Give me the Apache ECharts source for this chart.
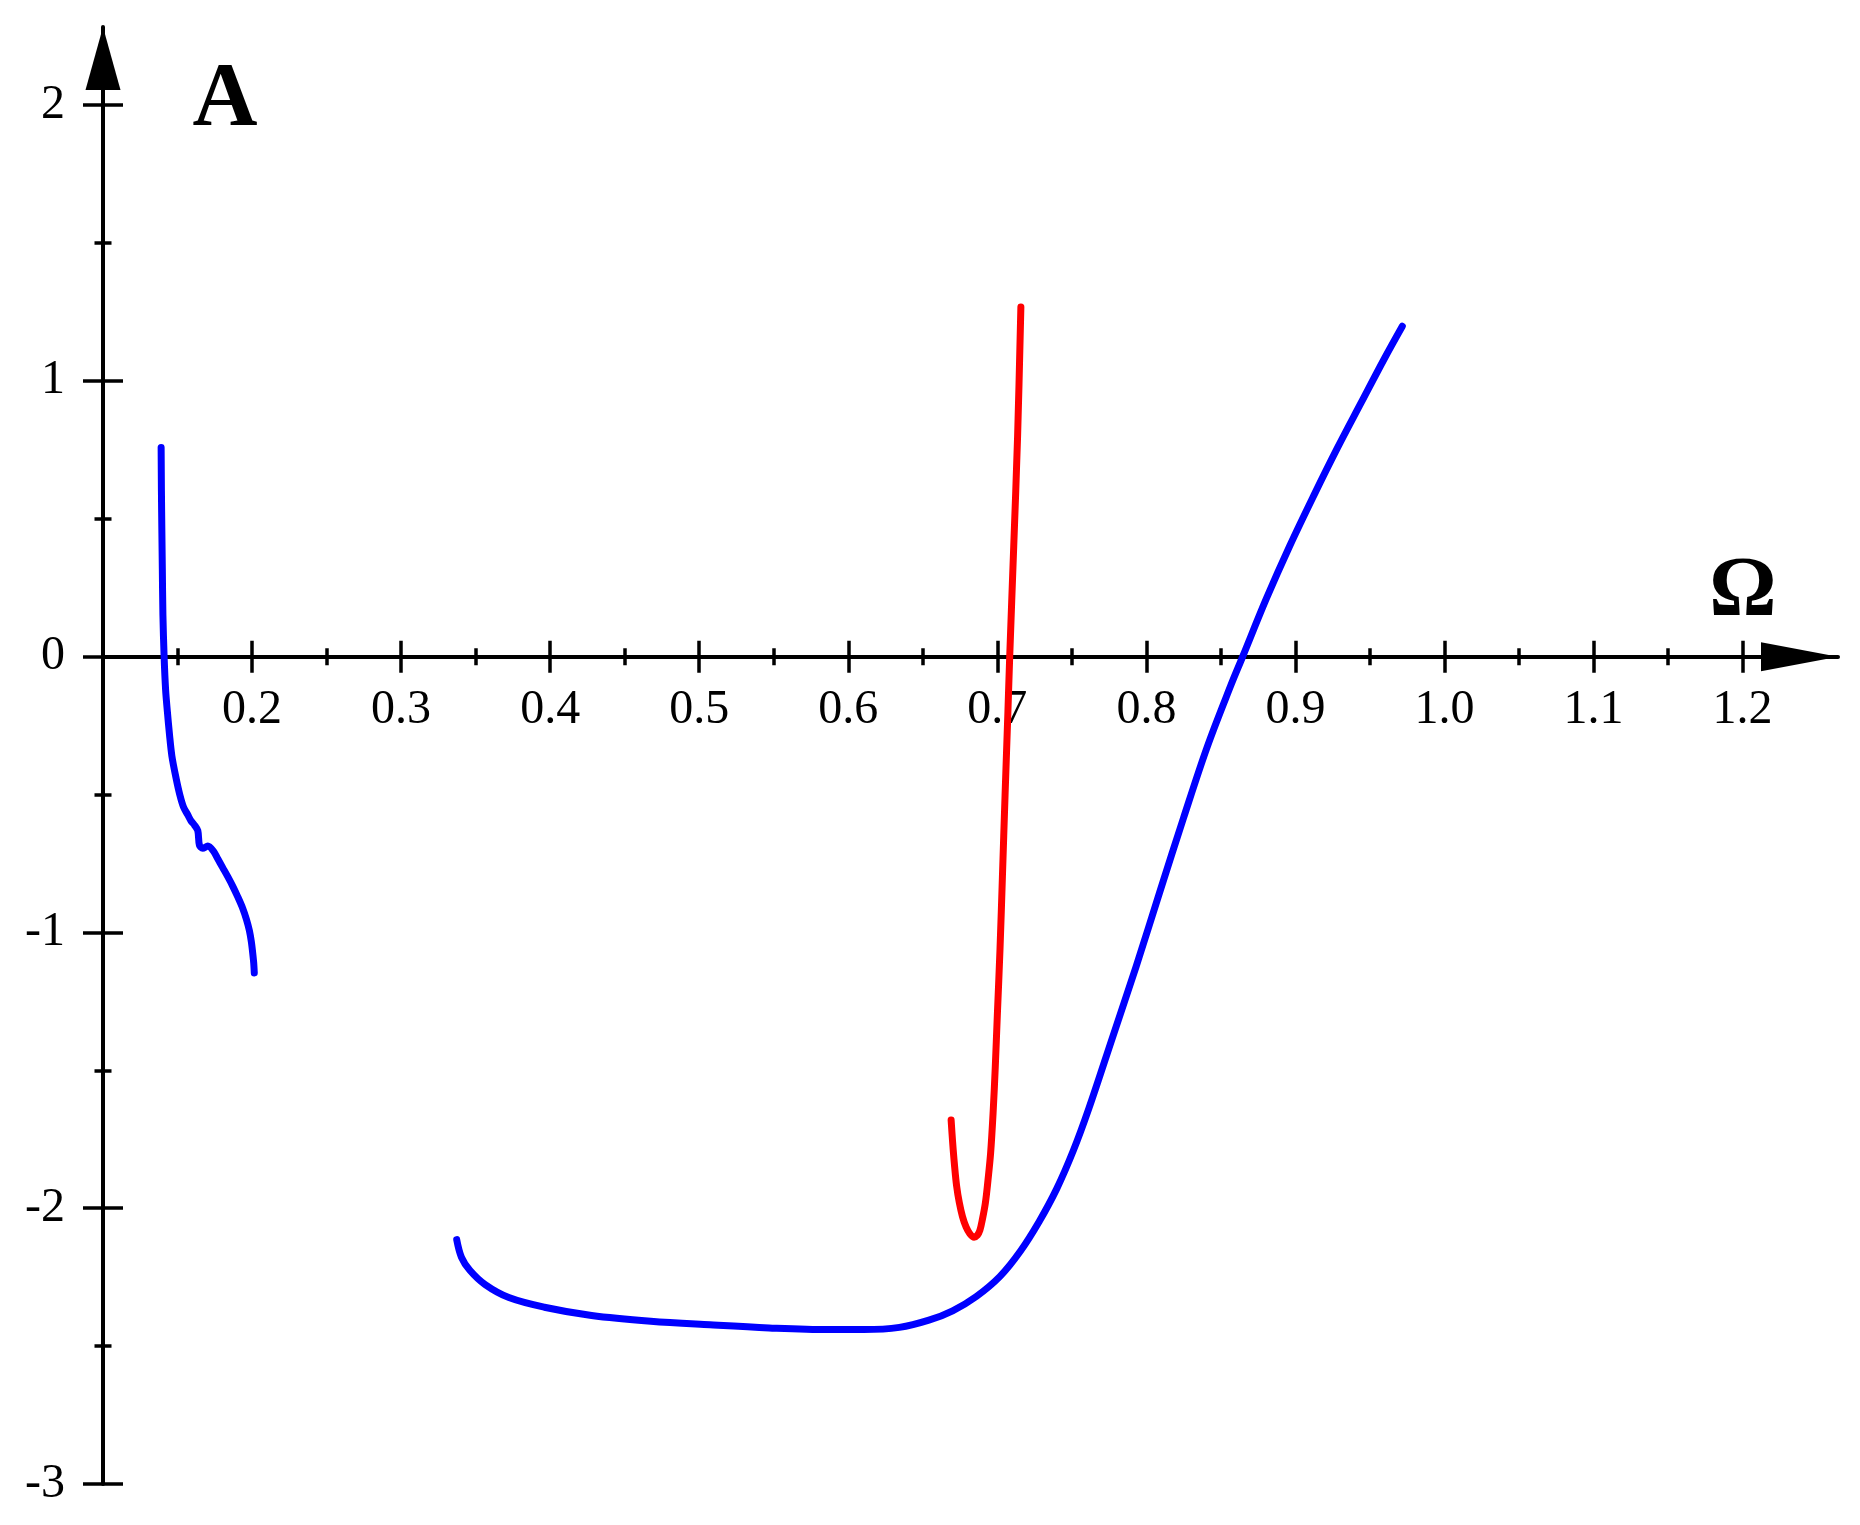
<!DOCTYPE html>
<html>
<head>
<meta charset="utf-8">
<script src="https://cdn.jsdelivr.net/npm/echarts@6/dist/echarts.min.js"></script>
<style>
html,body{margin:0;padding:0;background:#ffffff;}
#chart{width:1860px;height:1525px;}
</style>
</head>
<body>
<div id="chart"></div>
<script>
// ---- tick / label values ----
const xMajorTicks = [0.1, 0.2, 0.3, 0.4, 0.5, 0.6, 0.7, 0.8, 0.9, 1.0, 1.1, 1.2];
const xLabelValues = [0.2, 0.3, 0.4, 0.5, 0.6, 0.7, 0.8, 0.9, 1.0, 1.1, 1.2];
const xMinorTicks = [0.15, 0.25, 0.35, 0.45, 0.55, 0.65, 0.75, 0.85, 0.95, 1.05, 1.15];
const yMajorTicks = [-3, -2, -1, 0, 1, 2];
const yMinorTicks = [-2.5, -1.5, -0.5, 0.5, 1.5];
const xAxisName = 'Ω';
const yAxisName = 'A';

// ---- series values ----
const blueLeftX = [0.1390, 0.1392, 0.1395, 0.1398, 0.1402, 0.1410, 0.1420, 0.1432, 0.1446, 0.1462, 0.1490, 0.1515, 0.1540, 0.1570, 0.1590, 0.1614, 0.1636, 0.1647, 0.1669, 0.1703, 0.1741, 0.1770, 0.1803, 0.1837, 0.1870, 0.1905, 0.1937, 0.1962, 0.1982, 0.1995, 0.2004, 0.2011, 0.2015];
const blueLeftY = [0.758, 0.600, 0.450, 0.320, 0.150, 0.000, -0.120, -0.200, -0.282, -0.360, -0.440, -0.500, -0.545, -0.575, -0.595, -0.611, -0.631, -0.684, -0.695, -0.687, -0.705, -0.733, -0.765, -0.798, -0.832, -0.872, -0.912, -0.952, -0.993, -1.033, -1.073, -1.110, -1.147];

const blueMainX = [0.3373, 0.3405, 0.3461, 0.3564, 0.3723, 0.3961, 0.4278, 0.4675, 0.5072, 0.5469, 0.5866, 0.6105, 0.6343, 0.6541, 0.6700, 0.6859, 0.7018, 0.7153, 0.7280, 0.7399, 0.7510, 0.7613, 0.7772, 0.7931, 0.8090, 0.8248, 0.8407, 0.8566, 0.8646, 0.8804, 0.8963, 0.9122, 0.9280, 0.9439, 0.9598, 0.9717];
const blueMainY = [-2.114, -2.178, -2.225, -2.277, -2.324, -2.359, -2.389, -2.410, -2.423, -2.434, -2.440, -2.440, -2.432, -2.406, -2.372, -2.320, -2.247, -2.157, -2.049, -1.929, -1.791, -1.640, -1.382, -1.124, -0.853, -0.587, -0.329, -0.105, 0.000, 0.209, 0.403, 0.583, 0.755, 0.919, 1.082, 1.198];

const redX = [0.6690, 0.6700, 0.6712, 0.6727, 0.6745, 0.6766, 0.6790, 0.6815, 0.6844, 0.6866, 0.6883, 0.6900, 0.6920, 0.6937, 0.6955, 0.6972, 0.6986, 0.7000, 0.7018, 0.7034, 0.7052, 0.7071, 0.7083, 0.7110, 0.7136, 0.7158];
const redY = [-1.680, -1.760, -1.840, -1.920, -1.980, -2.030, -2.068, -2.092, -2.105, -2.098, -2.080, -2.040, -1.980, -1.900, -1.800, -1.650, -1.490, -1.300, -1.060, -0.800, -0.500, -0.200, 0.000, 0.400, 0.800, 1.268];

const zipXY = (xs, ys) => xs.map((x, i) => [x, ys[i]]);

const FONT = '"Liberation Serif", "Times New Roman", serif';
const X_MIN = 0.1, X_MAX = 1.264, Y_MIN = -3, Y_MAX = 2.283;
const G_LEFT = 103, G_TOP = 27, G_W = 1735, G_H = 1457;
// second grid ends exactly at the value 0 of the main y axis (carries the x labels)
const G2_H = G_H * (Y_MAX - 0) / (Y_MAX - Y_MIN);

function makeX(tickVals, inside, len, withLine) {
  return {
    type: 'value', gridIndex: 0, position: 'bottom', min: X_MIN, max: X_MAX,
    axisLine: withLine ? {
      show: true, onZero: true, onZeroAxisIndex: 0,
      lineStyle: { color: '#000', width: 4 },
      symbol: ['none', 'triangle'], symbolSize: [29, 77], symbolOffset: [0, -38.5]
    } : { show: false, onZero: true, onZeroAxisIndex: 0 },
    axisTick: { show: true, inside: inside, length: len, customValues: tickVals, lineStyle: { color: '#000', width: 3.5 } },
    axisLabel: { show: false },
    splitLine: { show: false }, minorTick: { show: false }, minorSplitLine: { show: false }
  };
}
function makeY(tickVals, inside, len, withLine, withLabels) {
  return {
    type: 'value', gridIndex: 0, position: 'left', min: Y_MIN, max: Y_MAX,
    axisLine: withLine ? {
      show: true, onZero: false,
      lineStyle: { color: '#000', width: 4 },
      symbol: ['none', 'triangle'], symbolSize: [35, 63], symbolOffset: [0, -31.5]
    } : { show: false, onZero: false },
    axisTick: { show: true, inside: inside, length: len, customValues: tickVals, lineStyle: { color: '#000', width: 3.5 } },
    axisLabel: withLabels ? {
      show: true, customValues: yMajorTicks, margin: 38,
      padding: [12, 0, 0, 0],
      color: '#000', fontFamily: FONT, fontSize: 48
    } : { show: false },
    splitLine: { show: false }, minorTick: { show: false }, minorSplitLine: { show: false }
  };
}

const lineStyleOf = c => ({ color: c, width: 7, cap: 'round', join: 'round' });

const chart = echarts.init(document.getElementById('chart'), null, { renderer: 'canvas' });
chart.setOption({
  animation: false,
  backgroundColor: '#ffffff',
  grid: [
    { left: G_LEFT, top: G_TOP, width: G_W, height: G_H, containLabel: false, outerBoundsMode: 'none' },
    { left: G_LEFT, top: G_TOP, width: G_W, height: G2_H, containLabel: false, outerBoundsMode: 'none' }
  ],
  xAxis: [
    makeX(xMajorTicks, false, 16, true),
    makeX(xMajorTicks, true, 16, false),
    makeX(xMinorTicks, false, 8.5, false),
    makeX(xMinorTicks, true, 8.5, false),
    {
      type: 'value', gridIndex: 1, position: 'bottom', min: X_MIN, max: X_MAX,
      axisLine: { show: false, onZero: false }, axisTick: { show: false },
      axisLabel: {
        show: true, customValues: xLabelValues, margin: 30,
        formatter: v => Number(v).toFixed(1),
        color: '#000', fontFamily: FONT, fontSize: 48
      },
      splitLine: { show: false }
    }
  ],
  yAxis: [
    makeY(yMajorTicks, false, 20, true, true),
    makeY(yMajorTicks, true, 20, false, false),
    makeY(yMinorTicks, false, 8.5, false, false),
    makeY(yMinorTicks, true, 8.5, false, false),
    { type: 'value', gridIndex: 1, show: false, min: 0, max: 1, splitLine: { show: false } }
  ],
  series: [
    { name: 'blue-left', type: 'line', xAxisIndex: 0, yAxisIndex: 0, data: zipXY(blueLeftX, blueLeftY),
      showSymbol: false, smooth: 0.3, lineStyle: lineStyleOf('#0000ff'), z: 3 },
    { name: 'blue-main', type: 'line', xAxisIndex: 0, yAxisIndex: 0, data: zipXY(blueMainX, blueMainY),
      showSymbol: false, smooth: 0.35, lineStyle: lineStyleOf('#0000ff'), z: 3 },
    { name: 'red', type: 'line', xAxisIndex: 0, yAxisIndex: 0, data: zipXY(redX, redY),
      showSymbol: false, smooth: 0.35, lineStyle: lineStyleOf('#ff0000'), z: 3 }
  ],
  graphic: [
    { type: 'text', x: 225, y: 102, style: { text: yAxisName, font: 'bold 90px ' + FONT, fill: '#000', align: 'center', verticalAlign: 'middle' } },
    { type: 'text', x: 1743, y: 593, style: { text: xAxisName, font: 'bold 84px ' + FONT, fill: '#000', align: 'center', verticalAlign: 'middle' } }
  ]
});
</script>
</body>
</html>
